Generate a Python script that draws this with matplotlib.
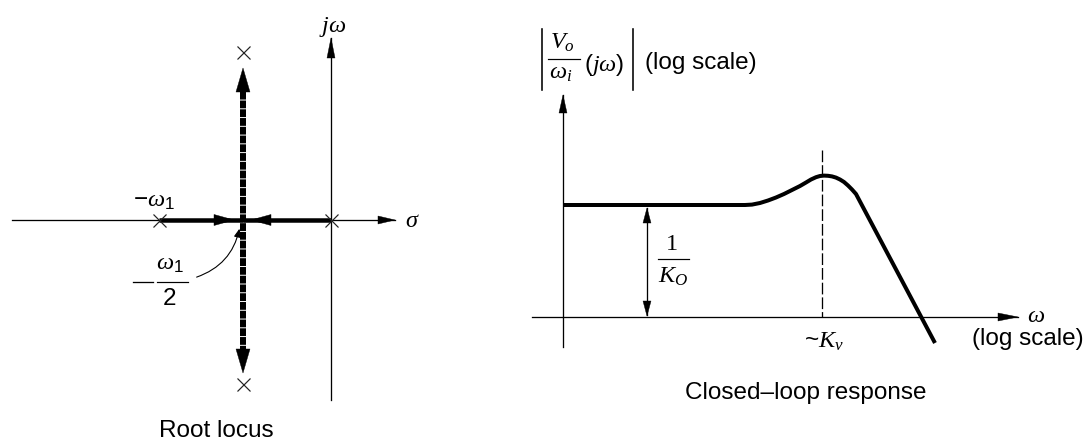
import matplotlib
matplotlib.use("Agg")
import matplotlib.pyplot as plt
from matplotlib.patches import Polygon, FancyArrowPatch
import numpy as np

plt.rcParams["font.family"] = ["Liberation Sans", "DejaVu Sans"]
plt.rcParams["mathtext.fontset"] = "custom"
plt.rcParams["mathtext.rm"] = "Liberation Sans"
plt.rcParams["mathtext.it"] = "Liberation Serif:italic"
plt.rcParams["mathtext.bf"] = "Liberation Serif:bold"

# ---------------- diagram geometry (drawing units = pixels, y downwards) ----
# Root-locus panel
sigma_axis_x = [12, 395]          # real axis start / arrow tip
sigma_axis_y = 220
jw_axis_x = 331
jw_axis_y = [400, 38]             # imaginary axis bottom / arrow tip
pole_x = [159, 331, 243, 243]     # -w1, 0, and the complex pair end points
pole_y = [220, 220, 52, 384]
break_x = 243                     # breakaway point  -w1/2
real_branch_start = [159, 331]
real_branch_tip = [234, 251]
imag_branch_tip = [68, 373]

# Closed-loop response panel
mag_axis_x = 563
mag_axis_y = [347, 95]
freq_axis_y = 317
freq_axis_x = [532, 1018]
resp_x = [563, 745, 752, 760, 768, 776, 784, 792, 800, 806, 811, 816, 820,
          824, 828, 832, 836, 840, 844, 848, 852, 856, 935]
resp_y = [205, 205, 204.6, 203, 200.5, 197.5, 194, 190, 186, 182.5, 179.5,
          177.2, 176, 175.6, 175.8, 176.4, 177.6, 179.5, 182, 185.5, 189.5,
          194, 343]
kv_x = 822
kv_line_y = [150, 317]
gain_arrow_x = 647

W, H = 1091, 443
fig = plt.figure(figsize=(W / 100, H / 100), dpi=100)
ax = fig.add_axes([0, 0, 1, 1])
ax.set_xlim(0, W)
ax.set_ylim(H, 0)
ax.axis("off")

PX = 72 / 100  # points per pixel
FS = 17.5


def head(tip, direction, length, width, color="black"):
    d = np.asarray(direction, float)
    d /= np.hypot(*d)
    n = np.array([-d[1], d[0]])
    t = np.asarray(tip, float)
    b = t - d * length
    pts = [t, b + n * width / 2, b - n * width / 2]
    ax.add_patch(Polygon(pts, closed=True, facecolor=color, edgecolor=color,
                         lw=0.3, zorder=5))


def fraction(xc, y_num, y_bar, y_den, x_bar, num, den, fs=FS,
             num_font=None, den_font=None):
    ax.text(xc[0], y_num, num, fontsize=fs, ha="center", va="center",
            family=num_font)
    ax.plot(x_bar, [y_bar, y_bar], color="black", lw=1.2 * PX)
    ax.text(xc[1], y_den, den, fontsize=fs, ha="center", va="center",
            family=den_font)


thin = 1.3 * PX

# ---- root locus ----
ax.plot(sigma_axis_x, [sigma_axis_y] * 2, color="black", lw=thin)
head((sigma_axis_x[1], sigma_axis_y), (1, 0), 17, 8)
ax.plot([jw_axis_x] * 2, jw_axis_y, color="black", lw=thin)
head((jw_axis_x, jw_axis_y[1]), (0, -1), 20, 8)

# real-axis branches
for s, t in zip(real_branch_start, real_branch_tip):
    ax.plot([s, break_x], [sigma_axis_y] * 2, color="black", lw=4.5 * PX,
            solid_capstyle="butt", zorder=3)
    dirn = (1, 0) if t > s else (-1, 0)
    head((t, sigma_axis_y), dirn, 20, 11)

# complex branches along the vertical through the breakaway point
ax.plot([break_x, break_x], [imag_branch_tip[0] + 15, imag_branch_tip[1] - 15],
        color="black", lw=6 * PX, linestyle=(0, (1.3, 0.16)),
        solid_capstyle="butt", dash_capstyle="butt", zorder=3)
head((break_x, imag_branch_tip[0]), (0, -1), 24, 14)
head((break_x, imag_branch_tip[1]), (0, 1), 24, 14)

ax.plot(pole_x, pole_y, linestyle="none", marker="x", markersize=13 * PX,
        mew=1.2 * PX, color="#222222", zorder=6)

ax.text(333, 27, r"$j\omega$", fontsize=FS, ha="center", va="center")
ax.text(412, 221, r"$\sigma$", fontsize=FS, ha="center", va="center")
ax.text(154, 201, r"$-\omega_1$", fontsize=FS, ha="center", va="center")

# -w1/2 label with a curved pointer to the breakaway point
ax.plot([133, 153], [282, 282], color="black", lw=1.3 * PX)
fraction((170, 169), 264, 282, 299, [157, 188], r"$\omega_1$", "2")
ax.add_patch(FancyArrowPatch((194, 278), (240, 226),
                             connectionstyle="arc3,rad=0.3",
                             arrowstyle="-|>,head_length=5,head_width=2.2",
                             lw=1.1 * PX, color="black", zorder=6))
ax.text(216, 431, "Root locus", fontsize=FS, ha="center", va="center")

# ---- closed-loop response ----
ax.plot([mag_axis_x] * 2, mag_axis_y, color="black", lw=thin)
head((mag_axis_x, mag_axis_y[1]), (0, -1), 18, 8)
ax.plot(freq_axis_x, [freq_axis_y] * 2, color="black", lw=thin)
head((freq_axis_x[1], freq_axis_y), (1, 0), 20, 8)

ax.plot(resp_x, resp_y, color="black", lw=4 * PX, solid_joinstyle="round",
        solid_capstyle="butt", zorder=4)
ax.plot([kv_x] * 2, kv_line_y, color="black", lw=thin,
        linestyle=(0, (9, 2.3)))

ax.plot([gain_arrow_x] * 2, [resp_y[0] + 3, freq_axis_y - 2], color="black",
        lw=thin)
head((gain_arrow_x, resp_y[0] + 3), (0, -1), 15, 8)
head((gain_arrow_x, freq_axis_y - 1), (0, 1), 15, 8)
fraction((672, 673), 244, 259, 277, [658, 689], "1", r"$K_O$",
         num_font="Liberation Serif")

# magnitude label with absolute-value bars
ax.plot([542, 542], [29, 90], color="black", lw=1.6 * PX)
ax.plot([633, 633], [29, 90], color="black", lw=1.6 * PX)
fraction((562, 561), 43, 59, 73, [548, 580], r"$V_o$", r"$\omega_i$")
ax.text(604, 65, r"$(j\omega)$", fontsize=FS, ha="center", va="center")
ax.text(701, 63, "(log scale)", fontsize=FS, ha="center", va="center")

ax.text(824, 342, r"~$K_v$", fontsize=FS, ha="center", va="center")
ax.text(1036, 316, r"$\omega$", fontsize=FS, ha="center", va="center")
ax.text(1028, 339, "(log scale)", fontsize=FS, ha="center", va="center")
ax.text(806, 393, "Closed\u2013loop response", fontsize=FS, ha="center",
        va="center")

fig.savefig("out.png", dpi=100, facecolor="white")
